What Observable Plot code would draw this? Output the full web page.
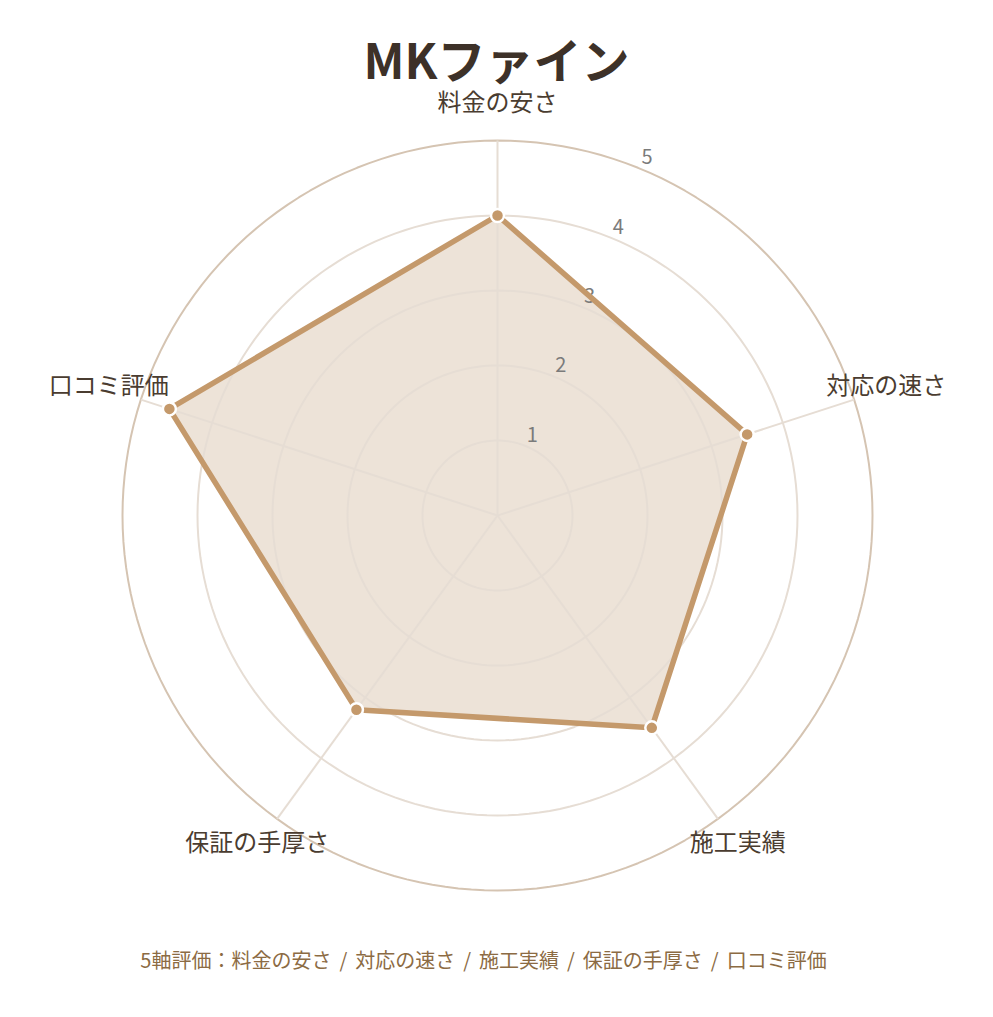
<!DOCTYPE html>
<html><head><meta charset="utf-8">
<script src="https://cdn.jsdelivr.net/npm/d3@7"></script>
<script src="https://cdn.jsdelivr.net/npm/@observablehq/plot@0.6"></script>
<style>
html,body{margin:0;padding:0;background:#fff;}
body{width:993px;height:1017px;position:relative;font-family:"Noto Sans CJK JP","Noto Sans",sans-serif;}
#title{position:absolute;left:0;width:993px;top:34px;text-align:center;font-size:48px;font-weight:700;color:#3d3128;line-height:1;z-index:2;}
#chart{position:absolute;left:0;top:90px;width:993px;height:840px;}
#caption{position:absolute;left:-13px;width:993px;top:946px;text-align:center;font-size:20px;line-height:28px;word-spacing:3.5px;color:#8c6b43;z-index:2;}
</style>
</head><body>
<div id="title">MKファイン</div>
<div id="chart"></div>
<div id="caption">5軸評価：料金の安さ / 対応の速さ / 施工実績 / 保証の手厚さ / 口コミ評価</div>
<script>
const categories = ["料金の安さ", "対応の速さ", "施工実績", "保証の手厚さ", "口コミ評価"];
const scores = [4.0, 3.5, 3.5, 3.2, 4.6];
const tickValues = [1, 2, 3, 4, 5];
const maxValue = 5;

const W = 993, H = 840, cx = 497, cy = 425, unit = 75;
const n = categories.length;
const ang = i => (2 * Math.PI * i) / n;

const axes = categories.map((c, i) => ({name: c, a: ang(i)}));
const points = scores.map((v, i) => ({v, a: ang(i), x: v * Math.sin(ang(i)), y: v * Math.cos(ang(i))}));
const closed = [...points, points[0]];

const ringPts = [];
for (const t of tickValues) {
  for (let k = 0; k <= 180; k++) {
    const a = (2 * Math.PI * k) / 180;
    ringPts.push({ring: t, x: t * Math.sin(a), y: t * Math.cos(a)});
  }
}
const tickAngle = Math.PI / 8;
const labelR = 5.45;

const plot = Plot.plot({
  width: W, height: H,
  margin: 0,
  x: {type: "linear", domain: [-cx / unit, (W - cx) / unit], range: [0, W], axis: null},
  y: {type: "linear", domain: [-(H - cy) / unit, cy / unit], range: [H, 0], axis: null},
  style: {fontFamily: '"Noto Sans CJK JP","Noto Sans",sans-serif', background: "transparent", overflow: "visible"},
  marks: [
    Plot.line(closed, {x: "x", y: "y", fill: "#ede3d8", stroke: "none"}),
    Plot.line(ringPts.filter(d => d.ring < maxValue), {x: "x", y: "y", z: "ring", stroke: "#e6ddd4", strokeWidth: 2}),
    Plot.line(ringPts.filter(d => d.ring === maxValue), {x: "x", y: "y", z: "ring", stroke: "#d5c4b2", strokeWidth: 2}),
    Plot.link(axes, {x1: 0, y1: 0, x2: d => maxValue * Math.sin(d.a), y2: d => maxValue * Math.cos(d.a), stroke: "#e6ddd4", strokeWidth: 2}),
    Plot.text(tickValues, {x: v => v * Math.sin(tickAngle), y: v => v * Math.cos(tickAngle), text: d => String(d), dx: 6, dy: -11, fill: "#7b7b7b", fontSize: 20}),
    Plot.line(closed, {x: "x", y: "y", fill: "none", stroke: "#c4996b", strokeWidth: 5.5, strokeLinejoin: "round"}),
    Plot.dot(points, {x: "x", y: "y", r: 6.5, fill: "#c4996b", stroke: "#fff", strokeWidth: 2.5}),
    Plot.text(axes, {x: d => labelR * Math.sin(d.a), y: d => labelR * Math.cos(d.a), dy: -3, text: "name", fill: "#4a3c30", fontSize: 24})
  ]
});
document.getElementById("chart").appendChild(plot);
</script>
</body></html>
